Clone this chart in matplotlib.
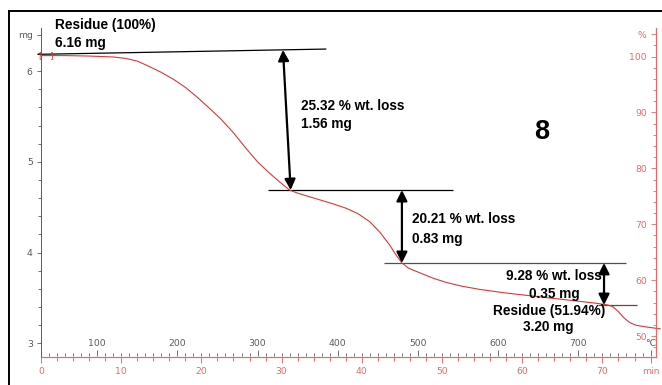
import matplotlib
matplotlib.use("Agg")
import matplotlib.pyplot as plt
from matplotlib.lines import Line2D
from matplotlib.ticker import MultipleLocator, FixedLocator

# --- TGA curve: time (min) vs. sample mass (mg) ---
time_min = [0, 3, 6, 9, 10.5, 12, 13.5, 15, 16.5, 18, 19.5, 21, 22.5, 24,
            25.5, 27, 28.5, 30, 31, 32, 33.5, 35, 36.5, 38, 39.5, 41, 42.3,
            43.5, 44.3, 45.0, 45.8, 47.3, 49, 50.6, 52.5, 54.7, 58, 61, 64,
            67, 69, 70.6, 71.3, 72, 72.7, 73.4, 74.2, 75.6, 77.2]
mass_mg = [6.17, 6.17, 6.165, 6.155, 6.14, 6.11, 6.05, 5.985, 5.91, 5.82,
           5.71, 5.59, 5.465, 5.32, 5.155, 5.0, 4.875, 4.76, 4.689, 4.655,
           4.615, 4.575, 4.535, 4.49, 4.43, 4.34, 4.22, 4.08, 3.97, 3.886,
           3.83, 3.775, 3.715, 3.67, 3.63, 3.595, 3.555, 3.525, 3.495, 3.465,
           3.445, 3.425, 3.405, 3.35, 3.28, 3.23, 3.20, 3.18, 3.16]

initial_mass = 6.16          # 100 % reference mass (mg)
start_temp, heat_rate = 30, 10   # degC, degC/min

# step annotations: mass levels (mg) where the steps are marked
step_levels = [6.242, 4.689, 3.886, 3.423]
step_loss_pct = ["25.32", "20.21", "9.28"]
step_loss_mg = ["1.56", "0.83", "0.35"]
residue_pct = "51.94"
residue_mg = "3.20"
sample_id = "8"

mg_ticks = [3, 4, 5, 6]
pct_ticks = [50, 60, 70, 80, 90, 100]
min_ticks = [0, 10, 20, 30, 40, 50, 60, 70]
temp_ticks = [100, 200, 300, 400, 500, 600, 700]

RED = "#d43a3a"
RED_AX = "#d97070"
GRAY = "#5a5a5a"
BOLD = dict(family="Liberation Sans", weight="bold", color="black")

fig = plt.figure(figsize=(6.62, 3.85), dpi=100)
W, H = 662, 385
ax = fig.add_axes([41 / W, 1 - 356.5 / H, (656 - 41) / W, (356.5 - 28) / H])
ax.set_xlim(0, 76.68)
ax.set_ylim(2.856, 6.474)

# frame around the panel
fig.add_artist(Line2D([9 / W, 1], [1 - 11 / H] * 2, transform=fig.transFigure,
                      color="black", lw=1.4))
fig.add_artist(Line2D([9 / W] * 2, [0, 1 - 11 / H], transform=fig.transFigure,
                      color="black", lw=1.4))

# spines
ax.spines["top"].set_visible(False)
ax.spines["right"].set_visible(False)
ax.spines["left"].set_color(GRAY)
ax.spines["left"].set_linewidth(0.7)
ax.spines["bottom"].set_color(RED_AX)
ax.spines["bottom"].set_linewidth(0.9)

# left mass axis
ax.yaxis.set_major_locator(FixedLocator(mg_ticks + [6.4]))
ax.set_yticklabels([str(v) for v in mg_ticks] + ["mg"])
ax.yaxis.set_minor_locator(MultipleLocator(0.2))
ax.tick_params(axis="y", which="major", direction="out", length=3, width=0.6,
               color=GRAY, labelcolor=GRAY, labelsize=6.7, pad=3)
ax.tick_params(axis="y", which="minor", direction="out", length=2.5, width=0.6,
               color=GRAY)

# bottom time axis
ax.xaxis.set_major_locator(FixedLocator(min_ticks + [76]))
ax.set_xticklabels([str(v) for v in min_ticks] + ["min"])
ax.xaxis.set_minor_locator(MultipleLocator(2))
ax.tick_params(axis="x", which="major", direction="out", length=4.3, width=0.7,
               color=RED_AX, labelcolor=RED_AX, labelsize=6.7, pad=3)
ax.tick_params(axis="x", which="minor", direction="out", length=2.9, width=0.7,
               color=RED_AX)

# temperature scale sharing the bottom line, ticks and labels pointing up
sec = ax.secondary_xaxis(0, functions=(lambda t: start_temp + heat_rate * t,
                                        lambda T: (T - start_temp) / heat_rate))
sec.set_alignment("top")
for s in sec.spines.values():
    s.set_visible(False)
sec.set_xticks(temp_ticks + [790], labels=[str(v) for v in temp_ticks] + ["°C"])
sec.xaxis.set_minor_locator(MultipleLocator(10))
sec.tick_params(axis="x", which="major", direction="out", length=4.3, width=0.6,
                color=GRAY, labelcolor=GRAY, labelsize=6.7, pad=1.5)
sec.tick_params(axis="x", which="minor", direction="out", length=2.2, width=0.6,
                color=GRAY)

# right percent axis
ax2 = ax.twinx()
ax2.set_ylim(ax.get_ylim()[0] * 100 / initial_mass,
             ax.get_ylim()[1] * 100 / initial_mass)
for side in ("top", "left", "bottom"):
    ax2.spines[side].set_visible(False)
ax2.spines["right"].set_color(RED_AX)
ax2.spines["right"].set_linewidth(0.9)
ax2.set_yticks(pct_ticks + [104], labels=[str(v) for v in pct_ticks] + ["%"])
ax2.yaxis.set_minor_locator(MultipleLocator(2))
ax2.tick_params(axis="y", which="major", direction="in", length=3.6, width=0.6,
                color=RED_AX, labelcolor=RED_AX, labelsize=6.7, pad=-6.7)
ax2.tick_params(axis="y", which="minor", direction="in", length=2.2, width=0.6,
                color=RED_AX)
for lbl in ax2.get_yticklabels():
    lbl.set_horizontalalignment("right")

# the TGA curve
ax.plot(time_min, mass_mg, color=RED, lw=0.8, clip_on=False, zorder=3,
        solid_joinstyle="round")
ax.text(0.6, 6.172, "[   ]", color=RED, fontsize=6, ha="center", va="center")

# step tangent / level lines
ax.plot([-0.37, 35.5], [6.184, 6.242], color="black", lw=0.9, clip_on=False)
ax.hlines(step_levels[1], 28.3, 51.4, color="black", lw=0.9)
ax.hlines(step_levels[2], 42.8, 72.9, color="#505050", lw=0.9)
ax.hlines(step_levels[3], 69.5, 74.3, color="#505050", lw=0.9)

# double-headed arrows spanning each step
arrow_kw = dict(arrowstyle="<|-|>,head_length=0.4,head_width=0.2",
                color="black", lw=1.6, shrinkA=0, shrinkB=0, mutation_scale=16)
ax.annotate("", xy=(31.13, step_levels[1]), xytext=(30.17, 6.233),
            arrowprops=arrow_kw)
ax.annotate("", xy=(45.0, step_levels[2]), xytext=(45.0, step_levels[1]),
            arrowprops=arrow_kw)
ax.annotate("", xy=(70.2, step_levels[3]), xytext=(70.2, step_levels[2]),
            arrowprops=arrow_kw)

# labels
fs = 9.8
ax.text(1.75, 6.507, "Residue (100%)", fontsize=fs, va="center", **BOLD)
ax.text(1.75, 6.308, f"{initial_mass:.2f} mg", fontsize=fs, va="center", **BOLD)
ax.text(32.4, 5.615, f"{step_loss_pct[0]} % wt. loss", fontsize=fs, va="center", **BOLD)
ax.text(32.4, 5.416, f"{step_loss_mg[0]} mg", fontsize=fs, va="center", **BOLD)
ax.text(46.26, 4.367, f"{step_loss_pct[1]} % wt. loss", fontsize=fs, va="center", **BOLD)
ax.text(46.26, 4.150, f"{step_loss_mg[1]} mg", fontsize=fs, va="center", **BOLD)
ax.text(64.0, 3.746, f"{step_loss_pct[2]} % wt. loss", fontsize=fs, va="center",
        ha="center", **BOLD)
ax.text(64.0, 3.541, f"{step_loss_mg[2]} mg", fontsize=fs, va="center",
        ha="center", **BOLD)
ax.text(63.3, 3.357, f"Residue ({residue_pct}%)", fontsize=fs, va="center",
        ha="center", **BOLD)
ax.text(63.2, 3.184, f"{residue_mg} mg", fontsize=fs, va="center",
        ha="center", **BOLD)
ax.text(62.4, 5.331, sample_id, fontsize=19.5, va="center", ha="center", **BOLD)

fig.savefig("out.png", dpi=100)
